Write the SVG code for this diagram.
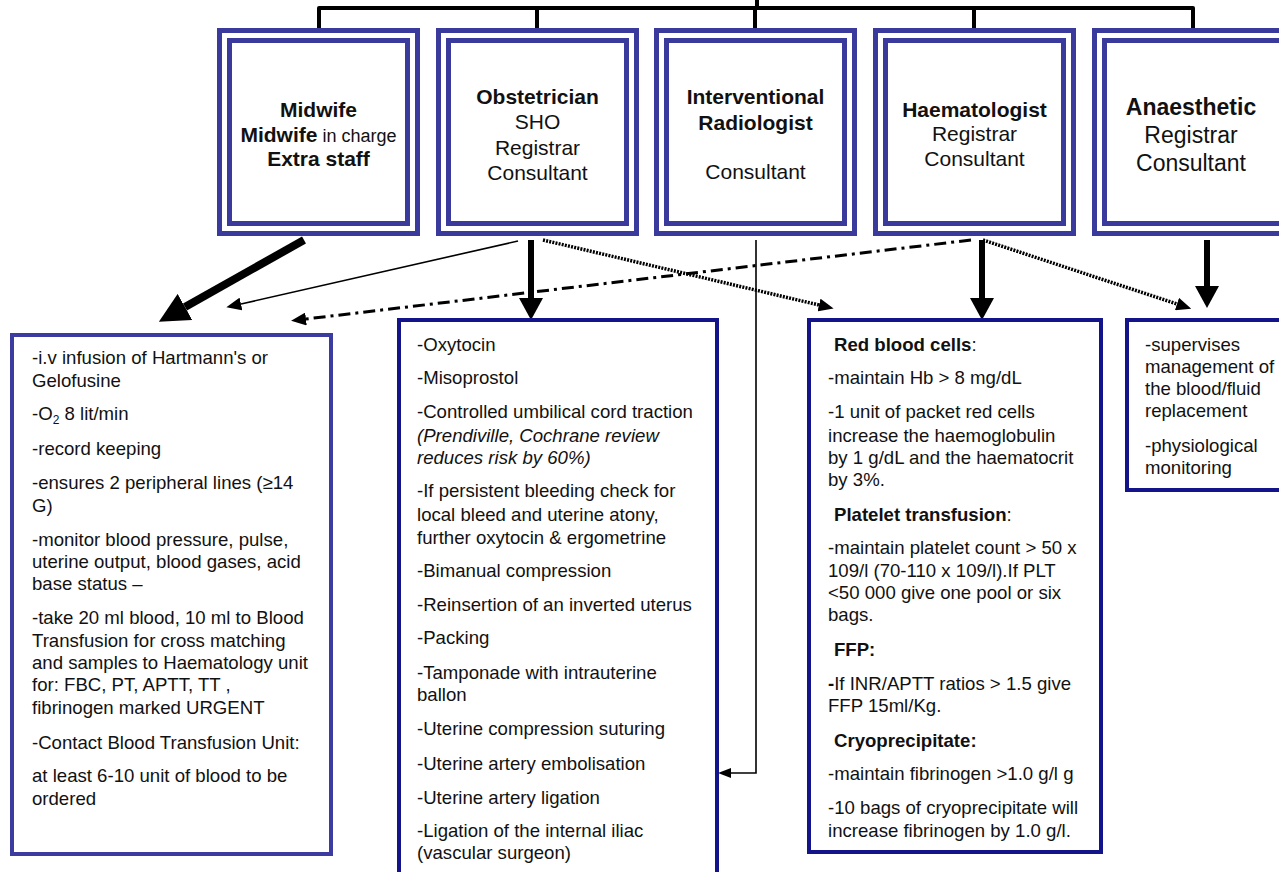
<svg xmlns="http://www.w3.org/2000/svg" width="1279" height="872" viewBox="0 0 1279 872">
<style>
.t{font-family:"Liberation Sans",Arial,Helvetica,sans-serif;font-size:18.6px;fill:#111}
.b{font-weight:bold}
.i{font-style:italic}
.h{font-family:"Liberation Sans",Arial,Helvetica,sans-serif;font-size:21px;fill:#111;text-anchor:middle}
.h2{font-size:23px}
.ob{fill:#fff;stroke:#3a3a9c;stroke-width:5}
.ib{fill:none;stroke:#3a3a9c;stroke-width:5}
.tb{fill:#fff;stroke:#14148a;stroke-width:4}
.tb1{fill:#fff;stroke:#3c3ca0;stroke-width:4}
.k{fill:none;stroke:#000}
.top{stroke-width:4;stroke-linejoin:round}
.thick{stroke-width:8}
.down{stroke-width:6}
.thin{stroke-width:1.6}
.dd{stroke-width:3;stroke-dasharray:12 5 3 5}
.dot{stroke-width:3.5;stroke-dasharray:2 1.2}
</style>
<defs>
<marker id="ahBig" viewBox="0 0 30 30" refX="0" refY="15" markerWidth="30" markerHeight="30" markerUnits="userSpaceOnUse" orient="auto"><path d="M0,0 L30,15 L0,30 z" fill="#000"/></marker>
<marker id="ahDown" viewBox="0 0 22 24" refX="0" refY="12" markerWidth="22" markerHeight="24" markerUnits="userSpaceOnUse" orient="auto"><path d="M0,0 L22,12 L0,24 z" fill="#000"/></marker>
<marker id="ahMed" viewBox="0 0 15 13" refX="0" refY="6.5" markerWidth="15" markerHeight="13" markerUnits="userSpaceOnUse" orient="auto"><path d="M0,0 L15,6.5 L0,13 z" fill="#000"/></marker>
<marker id="ahSmall" viewBox="0 0 13 10" refX="0" refY="5" markerWidth="13" markerHeight="10" markerUnits="userSpaceOnUse" orient="auto"><path d="M0,0 L13,5 L0,10 z" fill="#000"/></marker>
</defs>
<rect width="1279" height="872" fill="#fff"/>

<g id="connectors">
<path class="k top" d="M319,30 V8 H1193 V30"/>
<path class="k top" d="M757,0 V8 M537,8 V30 M755,8 V30 M974,8 V30"/>
<line class="k thick" x1="304" y1="240" x2="185" y2="307" marker-end="url(#ahBig)"/>
<line class="k thin" x1="518" y1="241" x2="241" y2="304" marker-end="url(#ahMed)"/>
<line class="k down" x1="531" y1="240" x2="531" y2="298" marker-end="url(#ahDown)"/>
<line class="k dot" x1="543" y1="240" x2="819" y2="305" marker-end="url(#ahMed)"/>
<line class="k dd" x1="971" y1="240" x2="306" y2="319" marker-end="url(#ahMed)"/>
<line class="k down" x1="982" y1="240" x2="982" y2="298" marker-end="url(#ahDown)"/>
<line class="k dot" x1="983" y1="240" x2="1177" y2="304" marker-end="url(#ahMed)"/>
<line class="k down" x1="1207" y1="240" x2="1207" y2="286" marker-end="url(#ahDown)"/>
<path class="k thin" d="M756,240 V773 H731" marker-end="url(#ahSmall)"/>
</g>

<g id="midwife">
<rect class="ob" x="219.5" y="30.5" width="198" height="203"/>
<rect class="ib" x="229.5" y="40.5" width="178" height="183"/>
<text class="h b" x="318.5" y="117">Midwife</text>
<text class="h" x="318.5" y="142"><tspan class="b">Midwife</tspan><tspan font-size="18"> in charge</tspan></text>
<text class="h b" x="318.5" y="166">Extra staff</text>
</g>

<g id="obstetrician">
<rect class="ob" x="438.5" y="30.5" width="198" height="203"/>
<rect class="ib" x="448.5" y="40.5" width="178" height="183"/>
<text class="h b" x="537.5" y="104">Obstetrician</text>
<text class="h" x="537.5" y="129">SHO</text>
<text class="h" x="537.5" y="155">Registrar</text>
<text class="h" x="537.5" y="180">Consultant</text>
</g>

<g id="radiologist">
<rect class="ob" x="656.5" y="30.5" width="198" height="203"/>
<rect class="ib" x="666.5" y="40.5" width="178" height="183"/>
<text class="h b" x="755.5" y="104">Interventional</text>
<text class="h b" x="755.5" y="130">Radiologist</text>
<text class="h" x="755.5" y="179">Consultant</text>
</g>

<g id="haematologist">
<rect class="ob" x="875.5" y="30.5" width="198" height="203"/>
<rect class="ib" x="885.5" y="40.5" width="178" height="183"/>
<text class="h b" x="974.5" y="117">Haematologist</text>
<text class="h" x="974.5" y="141">Registrar</text>
<text class="h" x="974.5" y="166">Consultant</text>
</g>

<g id="anaesthetic">
<rect class="ob" x="1094.5" y="30.5" width="198" height="203"/>
<rect class="ib" x="1104.5" y="40.5" width="178" height="183"/>
<text class="h h2 b" x="1191" y="115">Anaesthetic</text>
<text class="h h2" x="1191" y="143">Registrar</text>
<text class="h h2" x="1191" y="171">Consultant</text>
</g>

<g id="midwife-tasks">
<rect class="tb1" x="12" y="335" width="319" height="519"/>
<text class="t" x="32" y="364">-i.v infusion of Hartmann's or</text>
<text class="t" x="32" y="387">Gelofusine</text>
<text class="t" x="32" y="420">-O<tspan font-size="12" dy="4">2</tspan><tspan dy="-4"> 8 lit/min</tspan></text>
<text class="t" x="32" y="455">-record keeping</text>
<text class="t" x="32" y="489">-ensures 2 peripheral lines (≥14</text>
<text class="t" x="32" y="512">G)</text>
<text class="t" x="32" y="546">-monitor blood pressure, pulse,</text>
<text class="t" x="32" y="568">uterine output, blood gases, acid</text>
<text class="t" x="32" y="590">base status –</text>
<text class="t" x="32" y="624">-take 20 ml blood, 10 ml to Blood</text>
<text class="t" x="32" y="647">Transfusion for cross matching</text>
<text class="t" x="32" y="669">and samples to Haematology unit</text>
<text class="t" x="32" y="691">for: FBC, PT, APTT, TT ,</text>
<text class="t" x="32" y="714">fibrinogen marked URGENT</text>
<text class="t" x="32" y="749">-Contact Blood Transfusion Unit:</text>
<text class="t" x="32" y="782">at least 6-10 unit of blood to be</text>
<text class="t" x="32" y="805">ordered</text>
</g>

<g id="obstetric-tasks">
<rect class="tb" x="399" y="320" width="318" height="554"/>
<text class="t" x="417" y="351">-Oxytocin</text>
<text class="t" x="417" y="384">-Misoprostol</text>
<text class="t" x="417" y="418">-Controlled umbilical cord traction</text>
<text class="t i" x="417" y="442">(Prendiville, Cochrane review</text>
<text class="t i" x="417" y="464">reduces risk by 60%)</text>
<text class="t" x="417" y="497">-If persistent bleeding check for</text>
<text class="t" x="417" y="521">local bleed and uterine atony,</text>
<text class="t" x="417" y="544">further oxytocin &amp; ergometrine</text>
<text class="t" x="417" y="577">-Bimanual compression</text>
<text class="t" x="417" y="611">-Reinsertion of an inverted uterus</text>
<text class="t" x="417" y="644">-Packing</text>
<text class="t" x="417" y="679">-Tamponade with intrauterine</text>
<text class="t" x="417" y="701">ballon</text>
<text class="t" x="417" y="735">-Uterine compression suturing</text>
<text class="t" x="417" y="770">-Uterine artery embolisation</text>
<text class="t" x="417" y="804">-Uterine artery ligation</text>
<text class="t" x="417" y="837">-Ligation of the internal iliac</text>
<text class="t" x="417" y="859">(vascular surgeon)</text>
</g>

<g id="haematology-tasks">
<rect class="tb" x="809" y="320" width="292" height="532"/>
<text class="t" x="834" y="351"><tspan class="b">Red blood cells</tspan>:</text>
<text class="t" x="828" y="384">-maintain Hb &gt; 8 mg/dL</text>
<text class="t" x="828" y="418">-1 unit of packet red cells</text>
<text class="t" x="828" y="442">increase the haemoglobulin</text>
<text class="t" x="828" y="464">by 1 g/dL and the haematocrit</text>
<text class="t" x="828" y="486">by 3%.</text>
<text class="t" x="834" y="521"><tspan class="b">Platelet transfusion</tspan>:</text>
<text class="t" x="828" y="554">-maintain platelet count &gt; 50 x</text>
<text class="t" x="828" y="577">109/l (70-110 x 109/l).If PLT</text>
<text class="t" x="828" y="599">&lt;50 000 give one pool or six</text>
<text class="t" x="828" y="621">bags.</text>
<text class="t b" x="834" y="656">FFP:</text>
<text class="t" x="828" y="690"><tspan class="b">-</tspan>If INR/APTT ratios &gt; 1.5 give</text>
<text class="t" x="828" y="712">FFP 15ml/Kg.</text>
<text class="t b" x="834" y="747">Cryoprecipitate:</text>
<text class="t" x="828" y="780">-maintain fibrinogen &gt;1.0 g/l g</text>
<text class="t" x="828" y="814">-10 bags of cryoprecipitate will</text>
<text class="t" x="828" y="837">increase fibrinogen by 1.0 g/l.</text>
</g>

<g id="anaesthetic-tasks">
<rect class="tb" x="1127" y="320" width="160" height="170"/>
<text class="t" x="1145" y="351">-supervises</text>
<text class="t" x="1145" y="373">management of</text>
<text class="t" x="1145" y="395">the blood/fluid</text>
<text class="t" x="1145" y="417">replacement</text>
<text class="t" x="1145" y="452">-physiological</text>
<text class="t" x="1145" y="474">monitoring</text>
</g>
</svg>
